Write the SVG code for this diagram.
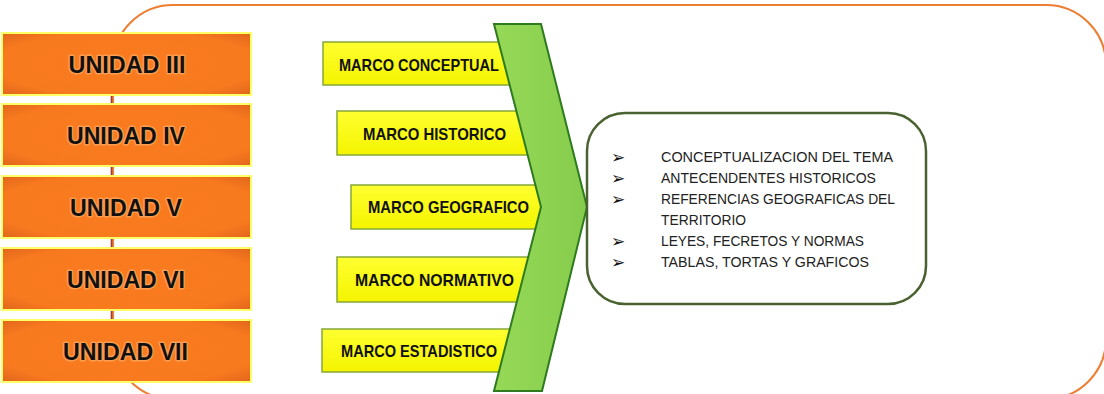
<svg xmlns="http://www.w3.org/2000/svg" width="1104" height="394" viewBox="0 0 1104 394">
  <defs>
    <radialGradient id="gOrange" cx="50%" cy="50%" r="75%">
      <stop offset="0" stop-color="#FA7B1E"/>
      <stop offset="0.7" stop-color="#F87A1F"/>
      <stop offset="1" stop-color="#D9601A"/>
    </radialGradient>
    <linearGradient id="gYellow" x1="0" y1="0" x2="0" y2="1">
      <stop offset="0" stop-color="#FFFF30"/>
      <stop offset="1" stop-color="#F4F400"/>
    </linearGradient>
    <linearGradient id="gGreen" x1="0" y1="0" x2="1" y2="0">
      <stop offset="0" stop-color="#96D957"/>
      <stop offset="1" stop-color="#86CC4C"/>
    </linearGradient>
  </defs>
  <style>
    .frame{fill:none;stroke:#ED7D31;stroke-width:2}
    .unit rect{fill:url(#gOrange);stroke:#FFFF66;stroke-width:2}
    .unit text{font-family:"Liberation Sans",Arial,sans-serif;font-weight:bold;font-size:24px;fill:#111;text-anchor:middle;stroke:#FFB574;stroke-width:3;stroke-opacity:0.6;paint-order:stroke;stroke-linejoin:round}
    .marco rect{fill:url(#gYellow);stroke:#86A83A;stroke-width:1.5}
    .marco text{font-family:"Liberation Sans",Arial,sans-serif;font-weight:bold;font-size:17px;fill:#111}
    .chev{fill:url(#gGreen);stroke:#2E7A1E;stroke-width:2;stroke-linejoin:miter}
    .result rect{fill:#fff;stroke:#4A6130;stroke-width:2.5}
    .result text{font-family:"Liberation Sans",Arial,sans-serif;font-size:14.5px;fill:#222}
    .result .bul{font-family:"DejaVu Sans",sans-serif;font-size:17px;fill:#111}
    .conn{stroke:#9E3B30;stroke-width:1.6;fill:none}
  </style>

  <g id="frame">
    <rect class="frame" x="113" y="5" width="993" height="394" rx="60" ry="60"/>
  </g>

  <g id="connectors">
    <line class="conn" x1="111.5" y1="64" x2="111.5" y2="351"/>
  </g>

  <g id="unidad-iii" class="unit">
    <rect x="2" y="33" width="249" height="62"/>
    <text x="127" y="73" textLength="117" lengthAdjust="spacingAndGlyphs">UNIDAD III</text>
  </g>
  <g id="unidad-iv" class="unit">
    <rect x="2" y="104" width="249" height="62"/>
    <text x="126" y="143.5" textLength="118" lengthAdjust="spacingAndGlyphs">UNIDAD IV</text>
  </g>
  <g id="unidad-v" class="unit">
    <rect x="2" y="176" width="249" height="62"/>
    <text x="126" y="215.5" textLength="112" lengthAdjust="spacingAndGlyphs">UNIDAD V</text>
  </g>
  <g id="unidad-vi" class="unit">
    <rect x="2" y="248" width="249" height="62"/>
    <text x="126" y="287.5" textLength="118" lengthAdjust="spacingAndGlyphs">UNIDAD VI</text>
  </g>
  <g id="unidad-vii" class="unit">
    <rect x="2" y="320" width="249" height="62"/>
    <text x="125.5" y="359.5" textLength="125" lengthAdjust="spacingAndGlyphs">UNIDAD VII</text>
  </g>

  <g id="marco-conceptual" class="marco">
    <rect x="323" y="42" width="217" height="43"/>
    <text x="339" y="71" textLength="160" lengthAdjust="spacingAndGlyphs">MARCO CONCEPTUAL</text>
  </g>
  <g id="marco-historico" class="marco">
    <rect x="337" y="111" width="203" height="44"/>
    <text x="363" y="139.5" textLength="143" lengthAdjust="spacingAndGlyphs">MARCO HISTORICO</text>
  </g>
  <g id="marco-geografico" class="marco">
    <rect x="351" y="185" width="192" height="44"/>
    <text x="368" y="213" textLength="161" lengthAdjust="spacingAndGlyphs">MARCO GEOGRAFICO</text>
  </g>
  <g id="marco-normativo" class="marco">
    <rect x="337" y="257" width="203" height="45"/>
    <text x="355" y="286" textLength="159" lengthAdjust="spacingAndGlyphs">MARCO NORMATIVO</text>
  </g>
  <g id="marco-estadistico" class="marco">
    <rect x="322" y="329" width="218" height="43"/>
    <text x="341" y="356.5" textLength="156" lengthAdjust="spacingAndGlyphs">MARCO ESTADISTICO</text>
  </g>

  <g id="chevron">
    <polygon class="chev" points="494,24 541,24 587,207 542,391 494,391 541,207"/>
  </g>

  <g id="resultado" class="result">
    <rect x="587" y="113" width="339" height="191" rx="38" ry="38"/>
    <text class="bul" x="611" y="163">➢</text>
    <text x="661" y="162" textLength="232" lengthAdjust="spacingAndGlyphs">CONCEPTUALIZACION DEL TEMA</text>
    <text class="bul" x="611" y="184">➢</text>
    <text x="661" y="183" textLength="215" lengthAdjust="spacingAndGlyphs">ANTECENDENTES HISTORICOS</text>
    <text class="bul" x="611" y="205">➢</text>
    <text x="661" y="204" textLength="234" lengthAdjust="spacingAndGlyphs">REFERENCIAS GEOGRAFICAS DEL</text>
    <text x="661" y="225" textLength="85" lengthAdjust="spacingAndGlyphs">TERRITORIO</text>
    <text class="bul" x="611" y="247">➢</text>
    <text x="661" y="246" textLength="203" lengthAdjust="spacingAndGlyphs">LEYES, FECRETOS Y NORMAS</text>
    <text class="bul" x="611" y="268">➢</text>
    <text x="661" y="267" textLength="208" lengthAdjust="spacingAndGlyphs">TABLAS, TORTAS Y GRAFICOS</text>
  </g>
</svg>
